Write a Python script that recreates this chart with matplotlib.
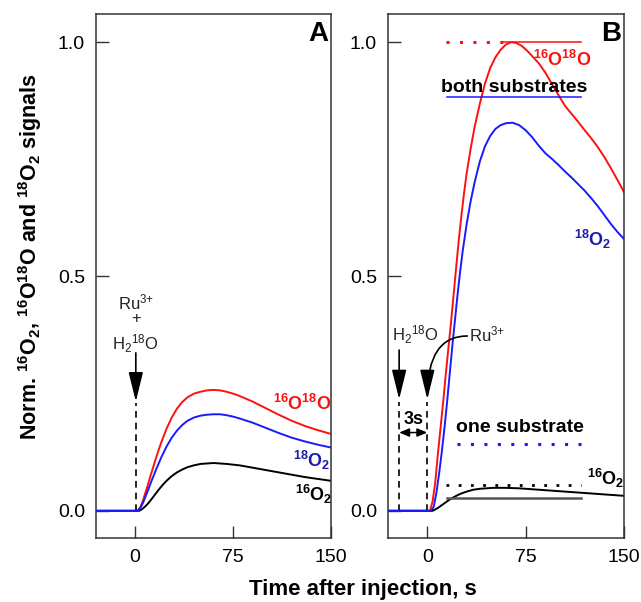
import matplotlib
matplotlib.use("Agg")
import matplotlib.pyplot as plt

plt.rcParams['font.family'] = ['Liberation Sans', 'DejaVu Sans']
plt.rcParams['mathtext.fontset'] = 'custom'
plt.rcParams['mathtext.rm'] = 'Liberation Sans'
plt.rcParams['mathtext.bf'] = 'Liberation Sans:bold'
plt.rcParams['mathtext.default'] = 'regular'

# ---- panel A data (time in s, normalised signal) ----
t_red_a = [-30, 0, 2, 4, 6, 8, 10, 12, 14, 16, 18, 20, 24, 28, 32, 36, 40, 45, 50, 55,
           60, 65, 70, 75, 80, 90, 100, 110, 120, 130, 140, 150]
red_a = [0, 0, 0, 0.008, 0.022, 0.04, 0.058, 0.077, 0.095, 0.113, 0.13, 0.146, 0.175, 0.199,
         0.218, 0.232, 0.242, 0.25, 0.254, 0.257, 0.258, 0.257, 0.254, 0.25, 0.245, 0.233,
         0.219, 0.205, 0.192, 0.181, 0.172, 0.164]
blue_a = [0, 0, 0, 0.006, 0.017, 0.031, 0.045, 0.06, 0.074, 0.088, 0.101, 0.114, 0.137, 0.156,
          0.171, 0.183, 0.192, 0.199, 0.203, 0.205, 0.206, 0.206, 0.204, 0.201, 0.197, 0.188,
          0.177, 0.166, 0.156, 0.148, 0.141, 0.135]
t_blk_a = [-30, 0, 3, 5, 8, 10, 12, 15, 18, 21, 24, 28, 32, 36, 40, 45, 50, 55, 60, 65, 70,
           80, 90, 100, 110, 120, 130, 140, 150]
blk_a = [0, 0, 0, 0.003, 0.01, 0.016, 0.023, 0.034, 0.045, 0.055, 0.064, 0.074, 0.082, 0.088,
         0.093, 0.097, 0.1, 0.101, 0.102, 0.101, 0.1, 0.097, 0.092, 0.087, 0.082, 0.077, 0.072,
         0.068, 0.064]

# ---- panel B data ----
t_red_b = [-30, 0, 2, 4, 6, 8, 10, 12, 14, 16, 18, 20, 22, 24, 26, 28, 30, 33, 36, 40, 44, 48,
           52, 56, 60, 64, 68, 72, 76, 80, 85, 90, 95, 100, 105, 110, 115, 120, 125, 130, 135,
           140, 145, 150]
red_b = [0, 0, 0, 0.02, 0.06, 0.12, 0.175, 0.23, 0.29, 0.345, 0.40, 0.46, 0.52, 0.578, 0.63,
         0.678, 0.72, 0.772, 0.818, 0.868, 0.912, 0.945, 0.968, 0.984, 0.995, 1.0, 0.998, 0.992,
         0.982, 0.97, 0.955, 0.935, 0.911, 0.887, 0.864, 0.847, 0.83, 0.812, 0.795, 0.776,
         0.755, 0.731, 0.706, 0.68]
t_blue_b = [-30, 0, 3, 5, 7, 9, 11, 13, 15, 17, 19, 21, 23, 25, 27, 30, 33, 36, 40, 44, 48, 52,
            56, 60, 65, 70, 75, 80, 85, 90, 95, 100, 105, 110, 115, 120, 125, 130, 135, 140,
            145, 150]
blue_b = [0, 0, 0, 0.01, 0.04, 0.08, 0.125, 0.175, 0.23, 0.29, 0.35, 0.405, 0.46, 0.51, 0.555,
          0.612, 0.66, 0.70, 0.745, 0.778, 0.80, 0.815, 0.823, 0.827, 0.828, 0.823, 0.812,
          0.797, 0.779, 0.763, 0.751, 0.738, 0.724, 0.711, 0.697, 0.683, 0.667, 0.65, 0.631,
          0.612, 0.595, 0.58]
t_blk_b = [-30, 0, 4, 8, 12, 16, 20, 25, 30, 35, 40, 50, 60, 70, 80, 90, 100, 110, 120, 130,
           140, 150]
blk_b = [0, 0, 0, 0.006, 0.014, 0.022, 0.029, 0.036, 0.041, 0.045, 0.047, 0.049, 0.049, 0.048,
         0.046, 0.044, 0.042, 0.04, 0.038, 0.036, 0.034, 0.032]

# reference levels in panel B: (y, t_start, t_end)
red_top_dot = (1.0, 14, 58)
red_top_solid = (1.0, 58, 117)
both_line = (0.882, 15, 117.5)
one_blue_dot = (0.142, 23, 117)
one_blk_dot = (0.055, 14, 117)
one_gray = (0.028, 15, 117)

RED = '#ff1010'
BLUE = '#1a1aff'
NAVY = '#1c1ca8'
SPINE = '#333333'
DOTS = (0, (1.0, 3.4))

fig = plt.figure(figsize=(6.41, 6.02), dpi=100)
axA = fig.add_axes([96 / 641, 1 - 538 / 602, 235 / 641, 524 / 602])
axB = fig.add_axes([388 / 641, 1 - 538 / 602, 236 / 641, 524 / 602])

for ax in (axA, axB):
    ax.set_xlim(-30, 150)
    ax.set_ylim(-0.058, 1.06)
    ax.set_xticks([0, 75, 150])
    ax.set_yticks([0.0, 0.5, 1.0])
    ax.set_yticklabels(['0.0', '0.5', '1.0'])
    ax.tick_params(direction='in', length=9, width=1, labelsize=14, color=SPINE, pad=8)
    for s in ax.spines.values():
        s.set_color(SPINE)
        s.set_linewidth(1.1)

head = dict(arrowstyle='-|>,head_length=1.3,head_width=0.32', mutation_scale=14,
            color='k', lw=1.2, shrinkA=0, shrinkB=0)

# panel A
axA.plot(t_red_a, red_a, color=RED, lw=1.4)
axA.plot(t_red_a, blue_a, color=BLUE, lw=1.4)
axA.plot(t_blk_a, blk_a, color='k', lw=1.4, zorder=1)
axA.plot([-30, 2], [0, 0], color=BLUE, lw=1.4, zorder=3)
axA.text(140, 1.018, 'A', fontsize=20, fontweight='bold', ha='center', va='center')
axA.text(128, 0.228, '$^{16}$O$^{18}$O', color=RED, fontsize=13, fontweight='bold',
         ha='center', va='center')
axA.text(135, 0.107, '$^{18}$O$_2$', color=NAVY, fontsize=13, fontweight='bold',
         ha='center', va='center')
axA.text(137, 0.034, '$^{16}$O$_2$', color='k', fontsize=13, fontweight='bold',
         ha='center', va='center')
axA.text(1, 0.445, r'Ru$^{\text{3+}}$', fontsize=12, color='#222222', ha='center',
         va='center')
axA.text(0.5, 0.41, '+', fontsize=12, color='#222222', ha='center', va='center')
axA.text(0, 0.356, 'H$_2$$^{18}$O', fontsize=12, color='#222222', ha='center', va='center')
axA.annotate('', xy=(0.5, 0.233), xytext=(0.5, 0.337), arrowprops=head)
axA.plot([0.5, 0.5], [0.0, 0.23], color='k', lw=1.2, ls=(0, (4, 3)))

# panel B
axB.plot(t_red_b, red_b, color=RED, lw=1.4)
axB.plot(t_blue_b, blue_b, color=BLUE, lw=1.4)
axB.plot(t_blk_b, blk_b, color='k', lw=1.4)
axB.plot([-30, 3], [0, 0], color=BLUE, lw=1.4, zorder=3)

for (y, a, b), col, ls, lw in [
        (red_top_dot, RED, DOTS, 2.2),
        (red_top_solid, RED, '-', 1.1),
        (both_line, BLUE, '-', 1.1),
        (one_blue_dot, BLUE, DOTS, 2.2),
        (one_blk_dot, 'k', DOTS, 2.0),
        (one_gray, '#555555', '-', 1.8)]:
    axB.plot([a, b], [y, y], color=col, ls=ls, lw=lw)

axB.text(140, 1.018, 'B', fontsize=20, fontweight='bold', ha='center', va='center')
axB.text(103, 0.962, '$^{16}$O$^{18}$O', color=RED, fontsize=13, fontweight='bold',
         ha='center', va='center')
axB.text(126, 0.578, '$^{18}$O$_2$', color=NAVY, fontsize=13, fontweight='bold',
         ha='center', va='center')
axB.text(136, 0.07, '$^{16}$O$_2$', color='k', fontsize=13, fontweight='bold',
         ha='center', va='center')
axB.text(66, 0.886, 'both substrates', fontsize=14, fontweight='bold', ha='center',
         va='bottom')
axB.text(71, 0.177, 'one substrate', fontsize=14, fontweight='bold', ha='center',
         va='center')
axB.text(-9.5, 0.376, 'H$_2$$^{18}$O', fontsize=12, color='#222222', ha='center',
         va='center')
axB.text(31.5, 0.376, r'Ru$^{\text{3+}}$', fontsize=12, color='#222222', ha='left',
         va='center')

axB.annotate('', xy=(-21.5, 0.238), xytext=(-21.5, 0.343), arrowprops=head)
axB.annotate('', xy=(0, 0.238), xytext=(30.5, 0.373),
             arrowprops=dict(head, connectionstyle='angle3,angleA=0,angleB=90'))
for tx in (-21.5, 0):
    axB.plot([tx, tx], [0.0, 0.232], color='k', lw=1.2, ls=(0, (4, 3)))
axB.annotate('', xy=(-21.5, 0.167), xytext=(0, 0.167),
             arrowprops=dict(arrowstyle='<|-|>,head_length=0.6,head_width=0.25',
                             mutation_scale=10, color='k', lw=1.1, shrinkA=0, shrinkB=0))
axB.text(-10.7, 0.194, '3s', fontsize=13, fontweight='bold', ha='center', va='center')

fig.text(363 / 641, 1 - 590 / 602, 'Time after injection, s', fontsize=16,
         fontweight='bold', ha='center', va='center')
fig.text(30 / 641, 1 - 257 / 602,
         'Norm. $^{16}$O$_2$, $^{16}$O$^{18}$O and $^{18}$O$_2$ signals',
         fontsize=15.5, fontweight='bold', rotation=90, ha='center', va='center')

fig.savefig('out.png', dpi=100)
